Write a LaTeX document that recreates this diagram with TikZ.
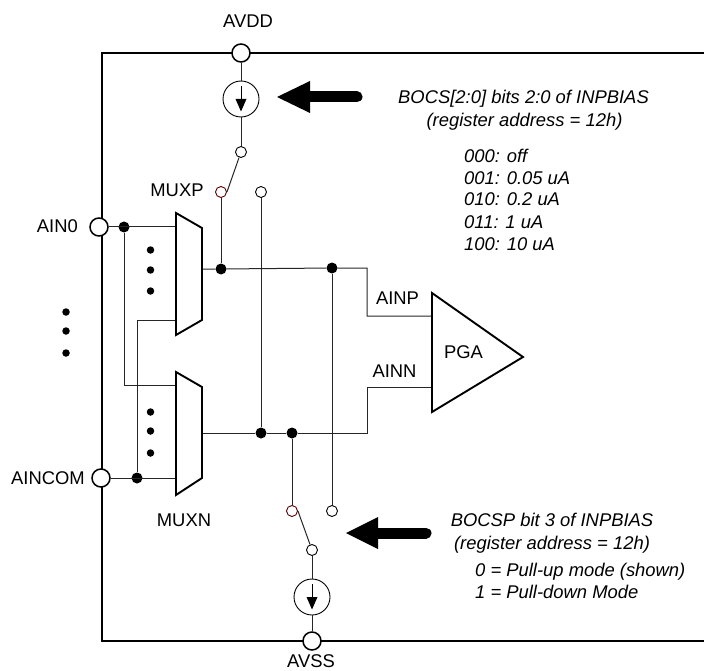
\documentclass[tikz,border=0pt]{standalone}
\usepackage{fontspec}
\setmainfont{Liberation Sans}
\begin{document}
\begin{tikzpicture}[x=1pt,y=-1pt,
  wire/.style={draw=black!85,line width=1pt},
  frameln/.style={draw=black,line width=2pt},
  muxbody/.style={draw=black,line width=1.9pt,fill=white},
  jdot/.style={circle,fill=black,inner sep=0pt,minimum size=11pt},
  sdot/.style={circle,fill=black,inner sep=0pt,minimum size=7.5pt},
  port/.style={circle,draw=black,line width=1.5pt,fill=white,inner sep=0pt,minimum size=18pt},
  contact/.style={circle,draw=black,line width=0.9pt,fill=white,inner sep=0pt,minimum size=11pt},
  rcontact/.style={contact,draw=black!50!red!70!black},
  source/.style={circle,draw=black,line width=0.9pt,fill=white,inner sep=0pt,minimum size=36pt},
  lab/.style={font=\fontsize{18.4}{22}\selectfont,inner sep=0pt,anchor=base},
  note/.style={font=\fontsize{18.4}{22}\selectfont\itshape,inner sep=0pt,anchor=base west},
  notec/.style={font=\fontsize{18.4}{22}\selectfont\itshape,inner sep=0pt,anchor=base}]
\useasboundingbox (0,0) rectangle (704,671);
\draw[frameln] (704,53) -- (102,53) -- (102,641) -- (704,641);
\node[port] (avdd) at (241,53) {};
\node[source] (src1) at (241,99) {};
\node[contact] (sw1) at (241,152) {};
\node[rcontact] (c1a) at (221,192) {};
\node[contact] (c1b) at (261,192) {};
\node[port] (ain0) at (99,227) {};
\node[port] (aincom) at (101,478) {};
\node[port] (avss) at (312,641) {};
\node[source] (src2) at (312,597) {};
\node[contact] (sw2) at (312,550) {};
\node[rcontact] (c2a) at (292,511) {};
\node[contact] (c2b) at (332,511) {};
\node[jdot] (j1) at (124,227) {};
\node[jdot] (j2) at (221,269) {};
\node[jdot] (j3) at (332,268) {};
\node[jdot] (j4) at (137,478) {};
\node[jdot] (j5) at (261,433) {};
\node[jdot] (j6) at (292,433) {};
\coordinate (mpo) at (202,269);
\coordinate (mno) at (202,433);
\coordinate (mp1) at (176,227);
\coordinate (mp2) at (176,320);
\coordinate (mn1) at (176,385);
\coordinate (mn2) at (176,478);
\coordinate (pp) at (432,316);
\coordinate (pn) at (432,387);
% wires
\draw[wire] (avdd) -- (src1);
\draw[wire] (src1) -- (sw1);
\draw[wire] (sw1) -- (c1a.east);
\draw[wire] (c1a) -- (j2);
\draw[wire] (c1b) -- (j5);
\draw[wire] (ain0) -- (mp1);
\draw[wire] (aincom) -- (mn2);
\draw[wire] (j1) |- (mn1);
\draw[wire] (j4) |- (mp2);
\draw[wire] (mpo) -- (j2) -- (j3) -- (367,268) -- (367,316) -- (pp);
\draw[wire] (mno) -- (j5) -- (j6) -- (367,433) -- (367,387) -- (pn);
\draw[wire] (j3) -- (c2b);
\draw[wire] (j6) -- (c2a);
\draw[wire] (c2a.east) -- (sw2);
\draw[wire] (sw2) -- (src2);
\draw[wire] (src2) -- (avss);
% shapes
\draw[muxbody] (176,213) -- (202,228) -- (202,320) -- (176,335) -- cycle;
\draw[muxbody] (176,372) -- (202,387) -- (202,478) -- (176,495) -- cycle;
\draw[muxbody] (432,293) -- (523,357) -- (432,412) -- cycle;
% source arrows
\foreach \s in {src1,src2}{
  \draw[line width=0.9pt] ([yshift=13pt]\s.center) -- ([yshift=-4pt]\s.center);
  \fill ([xshift=-5.5pt,yshift=0pt]\s.center) -- ([xshift=5.5pt,yshift=0pt]\s.center) -- ([yshift=-12.5pt]\s.center) -- cycle;
}
% big arrows
\fill (277,97) -- (310,81) -- (310,113) -- cycle;
\draw[line width=11pt,line cap=round] (308,97) -- (357,97);
\fill (346,533) -- (378,517) -- (378,549) -- cycle;
\draw[line width=11pt,line cap=round] (376,533) -- (426,533);
% ellipsis dots
\foreach \x/\y in {150.5/250,150.5/270,150.5/291,150.5/412,150.5/431,150.5/453,66/312,66/331,66/353}
  \node[sdot] at (\x,\y) {};
% labels
\node[lab] at (248,28) {AVDD};
\node[lab,anchor=base east] at (78,233) {AIN0};
\node[lab,anchor=base east] at (85,484) {AINCOM};
\node[lab] at (311,667) {AVSS};
\node[lab] at (177,197) {MUXP};
\node[lab] at (184,526) {MUXN};
\node[lab] at (397.5,304) {AINP};
\node[lab] at (394.5,377) {AINN};
\node[lab] at (463.5,358) {PGA};
\node[notec] at (523.5,104) {BOCS[2:0] bits 2:0 of INPBIAS};
\node[notec] at (524.5,127) {(register address = 12h)};
\node[note] at (464,163) {000: off};
\node[note] at (464,185) {001: 0.05 uA};
\node[note] at (464,206) {010: 0.2 uA};
\node[note] at (464,229) {011: 1 uA};
\node[note] at (464,251) {100: 10 uA};
\node[notec] at (552,526) {BOCSP bit 3 of INPBIAS};
\node[notec] at (552,549) {(register address = 12h)};
\node[note] at (475,576) {0 = Pull-up mode (shown)};
\node[note] at (475,598) {1 = Pull-down Mode};
\end{tikzpicture}
\end{document}
